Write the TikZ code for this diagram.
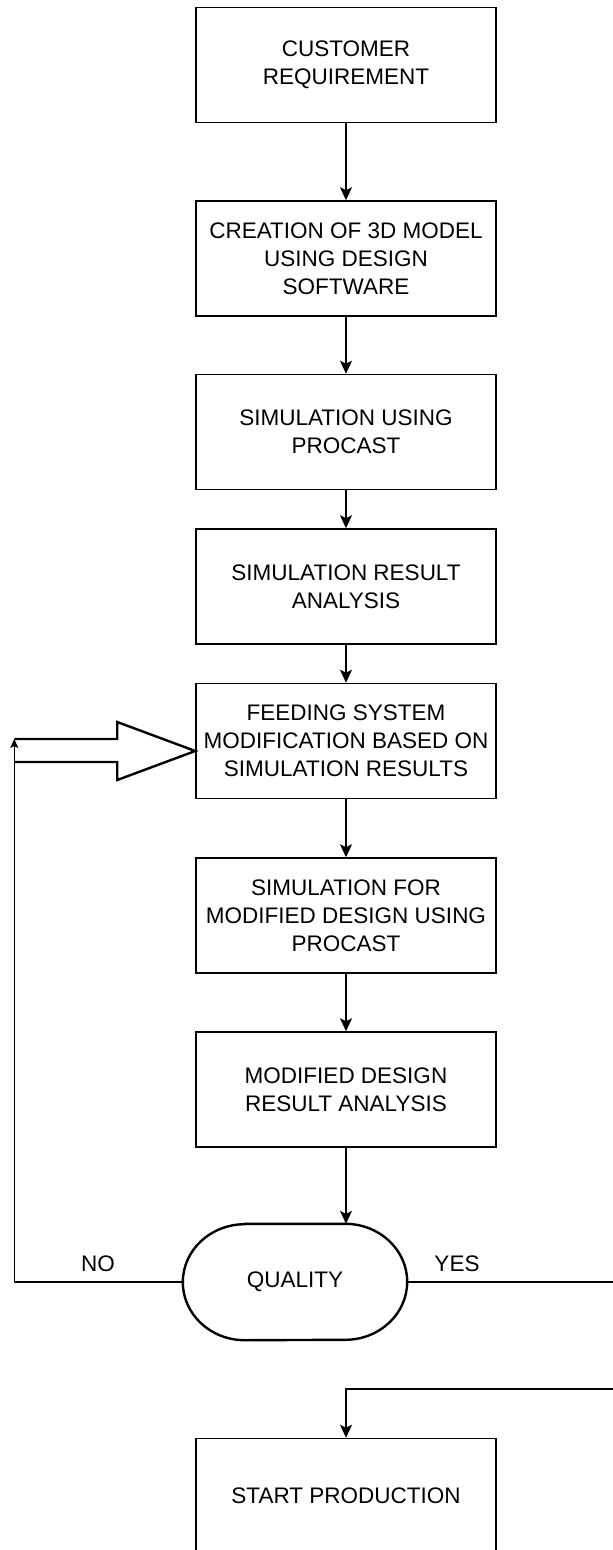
\documentclass[tikz,border=0pt]{standalone}
\usepackage{fontspec}
\setmainfont{Liberation Sans}
\usetikzlibrary{arrows.meta,calc}
\newcommand{\boxfont}{\fontsize{22.5}{28}\selectfont}
\begin{document}
\begin{tikzpicture}[x=1pt,y=-1pt,
  stepbox/.style={draw=black, line width=1.5pt, minimum width=300pt,
    minimum height=115pt, inner sep=0pt, align=center, font=\boxfont},
  flow/.style={line width=1.5pt, -{Stealth[length=13pt,width=12pt,inset=3pt]}},
  lbl/.style={font=\boxfont},
  heavy/.style={line width=2.4pt, line join=miter}]
\useasboundingbox (0,0) rectangle (613,1550);
\clip (0,0) rectangle (613,1550);

% process steps
\node[stepbox] (b1) at (346,65)     {CUSTOMER\\REQUIREMENT};
\node[stepbox] (b2) at (346,258.5)  {CREATION OF 3D MODEL\\USING DESIGN\\SOFTWARE};
\node[stepbox] (b3) at (346,432)    {SIMULATION USING\\PROCAST};
\node[stepbox] (b4) at (346,586.5)  {SIMULATION RESULT\\ANALYSIS};
\node[stepbox] (b5) at (346,741)    {FEEDING SYSTEM\\MODIFICATION BASED ON\\SIMULATION RESULTS};
\node[stepbox] (b6) at (346,915.5)  {SIMULATION FOR\\MODIFIED DESIGN USING\\PROCAST};
\node[stepbox] (b7) at (346,1089.5) {MODIFIED DESIGN\\RESULT ANALYSIS};
\node[stepbox] (b8) at (346,1496)   {START PRODUCTION};

% decision terminator with elliptical ends
\node[minimum width=224pt, minimum height=116pt, inner sep=0pt, font=\boxfont] (q) at (295,1282) {QUALITY};
\draw[heavy] ([xshift=62pt]q.north west) -- ([xshift=-62pt]q.north east)
  arc[start angle=-90, end angle=90, x radius=62, y radius=58]
  -- ([xshift=62pt]q.south west)
  arc[start angle=90, end angle=270, x radius=62, y radius=58] -- cycle;

% main flow
\draw[flow] (b1.south) -- (b2.north);
\draw[flow] (b2.south) -- (b3.north);
\draw[flow] (b3.south) -- (b4.north);
\draw[flow] (b4.south) -- (b5.north);
\draw[flow] (b5.south) -- (b6.north);
\draw[flow] (b6.south) -- (b7.north);
\draw[flow] (b7.south) -- (b7.south |- q.north);

% feedback block arrow into the modification step
\coordinate (tip) at ([yshift=-10pt]b5.west);
\coordinate (nt) at ($(tip)+(-181,-12)$);
\draw[heavy] ($(tip)+(-181,11)$) -- ($(tip)+(-78,11)$) -- ($(tip)+(-78,29)$)
  -- (tip) -- ($(tip)+(-78,-29)$) -- ($(tip)+(-78,-12)$) -- (nt);

% NO branch back up
\draw[line width=1.5pt, -{Stealth[length=9pt,width=8pt,inset=2pt]}] (q.west) -| (nt);
\node[lbl] (no) at (98,1264) {NO};

% YES branch to production
\coordinate (yr) at (640,1389);
\draw[flow] (q.east) -| (yr) -| (b8.north);
\node[lbl] (yes) at (457,1264) {YES};
\end{tikzpicture}
\end{document}
